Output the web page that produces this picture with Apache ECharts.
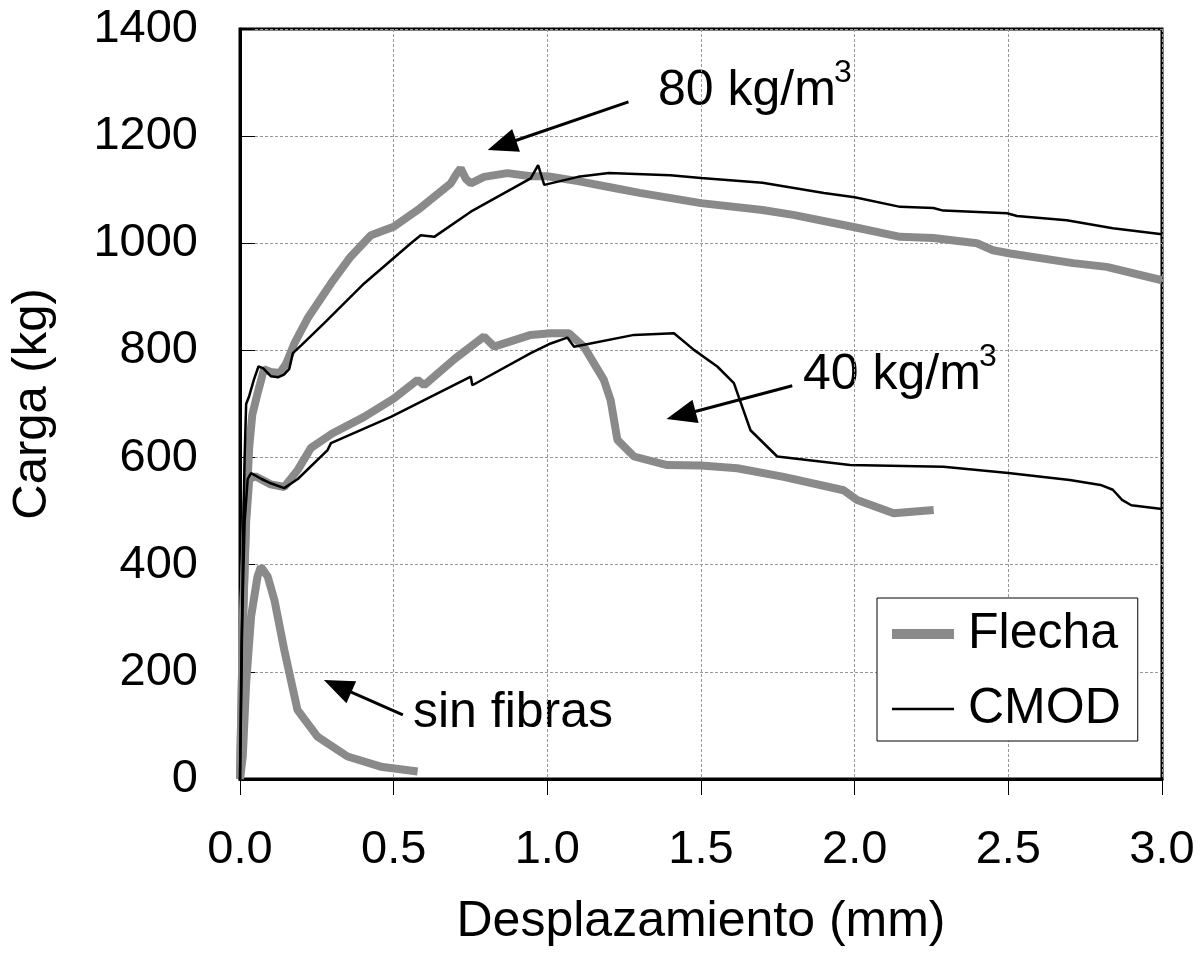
<!DOCTYPE html>
<html>
<head>
<meta charset="utf-8">
<script src="https://cdn.jsdelivr.net/npm/echarts@6/dist/echarts.min.js"></script>
<style>
html,body{margin:0;padding:0;background:#fff;}
#chart{width:1200px;height:966px;}
</style>
</head>
<body>
<div id="chart"></div>
<script>
// ---- data (x: desplazamiento mm, y: carga kg) ----
const flecha80 = [[0,0],[0.005,150],[0.01,300],[0.02,500],[0.03,620],[0.04,680],[0.055,715],[0.078,765],[0.1,760],[0.13,758],[0.15,775],[0.177,813],[0.22,860],[0.296,925],[0.36,975],[0.426,1015],[0.5,1031],[0.578,1062],[0.686,1112],[0.705,1130],[0.718,1140],[0.735,1120],[0.751,1112],[0.794,1124],[0.87,1131],[0.946,1125],[1.0,1125],[1.1,1116],[1.2,1105],[1.3,1094],[1.5,1075],[1.7,1062],[1.8,1053],[2.0,1030],[2.148,1012],[2.256,1010],[2.398,1000],[2.45,987],[2.506,981],[2.711,963],[2.82,956],[3.0,931]];
const cmod80 = [[0,0],[0.005,200],[0.01,450],[0.015,600],[0.02,700],[0.03,715],[0.045,745],[0.06,770],[0.075,767],[0.1,752],[0.125,750],[0.143,755],[0.16,765],[0.172,795],[0.2,810],[0.274,851],[0.404,925],[0.556,1000],[0.588,1015],[0.632,1012],[0.751,1059],[0.946,1121],[0.97,1146],[0.99,1109],[1.1,1124],[1.2,1131],[1.4,1127],[1.5,1122],[1.7,1113],[1.9,1094],[2.0,1086],[2.148,1068],[2.256,1066],[2.288,1061],[2.496,1056],[2.528,1051],[2.69,1043],[2.84,1028],[3.0,1017]];
const flecha40 = [[0,0],[0.01,300],[0.02,480],[0.03,560],[0.05,565],[0.1,550],[0.144,545],[0.188,577],[0.231,618],[0.3,645],[0.404,676],[0.5,710],[0.578,745],[0.599,735],[0.7,785],[0.794,826],[0.827,807],[0.946,829],[1.011,832],[1.07,832],[1.119,807],[1.184,745],[1.206,707],[1.228,633],[1.282,602],[1.39,586],[1.5,585],[1.618,580],[1.769,564],[1.964,539],[2.008,521],[2.127,496],[2.257,502]];
const cmod40 = [[0,0],[0.005,250],[0.015,480],[0.025,560],[0.036,571],[0.07,560],[0.1,552],[0.144,543],[0.188,560],[0.285,614],[0.296,627],[0.491,676],[0.751,751],[0.756,735],[0.946,795],[1.011,813],[1.065,824],[1.087,807],[1.282,829],[1.412,832],[1.477,801],[1.553,770],[1.607,739],[1.661,651],[1.748,602],[1.985,586],[2.289,583],[2.5,571],[2.7,558],[2.8,549],[2.84,540],[2.87,521],[2.9,511],[3.0,504]];
const flechaSin = [[0,0],[0.009,42],[0.02,179],[0.036,303],[0.057,378],[0.068,396],[0.09,378],[0.112,334],[0.144,241],[0.187,129],[0.252,79],[0.35,42],[0.458,23],[0.578,14]];
const xTicks = [0, 0.5, 1.0, 1.5, 2.0, 2.5, 3.0];
const yTicks = [0, 200, 400, 600, 800, 1000, 1200, 1400];
// annotation arrows: [tail, head]
const arrows = [
  [[1.264,1264],[0.852,1183]],
  [[1.797,734],[1.435,679]],
  [[0.530,119.5],[0.3175,173.4]]
];

const FONT = 'Liberation Sans, Arial, sans-serif';
const GRAY = '#8a8a8a';

const chart = echarts.init(document.getElementById('chart'), null, {renderer:'canvas'});
const lineGray = {color: GRAY, width: 8};
const lineBlack = {color: '#000', width: 2.5};

chart.setOption({
  backgroundColor: '#fff',
  animation: false,
  grid: {left: 239, right: 38, top: 29, bottom: 187, show: true, borderColor: '#000', borderWidth: 3, backgroundColor: 'transparent'},
  xAxis: {
    type: 'value', min: 0, max: 3, interval: 0.5,
    name: 'Desplazamiento (mm)', nameLocation: 'middle', nameGap: 118,
    nameTextStyle: {fontFamily: FONT, fontSize: 50, color: '#000'},
    axisLine: {lineStyle: {color: '#000', width: 3}},
    axisTick: {show: true, inside: false, length: 16, lineStyle: {color: '#000', width: 1}},
    axisLabel: {fontFamily: FONT, fontSize: 47, color: '#000', margin: 48, formatter: v => v.toFixed(1)},
    splitLine: {show: true, lineStyle: {color: '#999', width: 1, type: [3, 2]}}
  },
  yAxis: {
    type: 'value', min: 0, max: 1400, interval: 200,
    name: 'Carga (kg)', nameLocation: 'middle', nameGap: 183,
    nameTextStyle: {fontFamily: FONT, fontSize: 49, color: '#000'},
    axisLine: {lineStyle: {color: '#000', width: 3}},
    axisTick: {show: true, inside: true, length: 15, lineStyle: {color: '#000', width: 1}},
    axisLabel: {fontFamily: FONT, fontSize: 47, color: '#000', margin: 42, formatter: v => String(v)},
    splitLine: {show: true, lineStyle: {color: '#999', width: 1, type: [3, 2]}}
  },
  legend: {
    show: true, orient: 'vertical', left: 877, top: 598,
    data: [
      {name: 'Flecha', icon: 'path://M0,0L62,0L62,10L0,10Z'},
      {name: 'CMOD', icon: 'path://M0,0L62,0L62,2.5L0,2.5Z'}
    ],
    symbolKeepAspect: true,
    backgroundColor: '#fff', borderColor: '#000', borderWidth: 1,
    padding: [11, 17, 7, 15], itemWidth: 62, itemHeight: 14, itemGap: 25,
    textStyle: {fontFamily: FONT, fontSize: 50, color: '#000', padding: [0, 0, 0, 9]}
  },
  series: [
    {name: 'Flecha', type: 'line', data: flecha80, showSymbol: false, symbol: 'none', lineStyle: lineGray, itemStyle: {color: GRAY}, z: 2},
    {name: 'Flecha', type: 'line', data: flecha40, showSymbol: false, symbol: 'none', lineStyle: lineGray, itemStyle: {color: GRAY}, z: 2},
    {name: 'Flecha', type: 'line', data: flechaSin, showSymbol: false, symbol: 'none', lineStyle: lineGray, itemStyle: {color: GRAY}, z: 2},
    {name: 'CMOD', type: 'line', data: cmod80, showSymbol: false, symbol: 'none', lineStyle: lineBlack, itemStyle: {color: '#000'}, z: 3},
    {name: 'CMOD', type: 'line', data: cmod40, showSymbol: false, symbol: 'none', lineStyle: lineBlack, itemStyle: {color: '#000'}, z: 3},
    {name: 'anotaciones', type: 'line', data: [], z: 4,
      markLine: {
        silent: true, animation: false,
        symbol: ['none', 'triangle'], symbolSize: [24, 30],
        label: {show: false},
        lineStyle: {color: '#000', width: 3, type: 'solid'},
        itemStyle: {color: '#000'},
        emphasis: {disabled: true},
        data: arrows.map(a => [{coord: a[0]}, {coord: a[1]}])
      }
    }
  ],
  graphic: [
    {type: 'text', left: 658, top: 66, style: {text: '80 kg/m', font: '50px ' + FONT, fill: '#000'}},
    {type: 'text', left: 834, top: 57, style: {text: '3', font: '32px ' + FONT, fill: '#000'}},
    {type: 'text', left: 803, top: 350, style: {text: '40 kg/m', font: '50px ' + FONT, fill: '#000'}},
    {type: 'text', left: 979, top: 341, style: {text: '3', font: '32px ' + FONT, fill: '#000'}},
    {type: 'text', left: 413, top: 688, style: {text: 'sin fibras', font: '50px ' + FONT, fill: '#000'}}
  ]
});
</script>
</body>
</html>
